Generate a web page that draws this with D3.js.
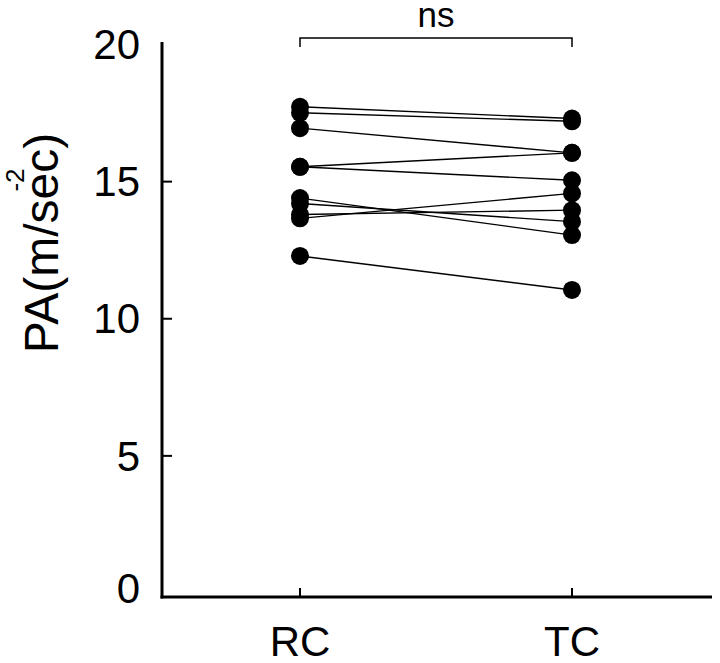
<!DOCTYPE html>
<html>
<head>
<meta charset="utf-8">
<script src="https://cdn.jsdelivr.net/npm/d3@7"></script>
<style>
  body { margin: 0; background: #fff; }
  svg { display: block; font-family: "Liberation Sans", Arial, sans-serif; }
</style>
</head>
<body>
<svg id="plot"></svg>
<script>
// Data: paired values, one line per subject
const groups = ["RC", "TC"];
const rcValues = [17.73, 17.51, 16.95, 15.54, 15.54, 14.4, 14.2, 13.8, 13.66, 12.29];
const tcValues = [17.3, 17.2, 16.05, 15.05, 16.05, 13.05, 13.54, 13.96, 14.57, 11.05];
const yTicks = [0, 5, 10, 15, 20];
const sigLabel = "ns";

const width = 720, height = 663;

const svg = d3.select("#plot")
    .attr("width", width)
    .attr("height", height);

// Scales
const x = d3.scalePoint()
    .domain(groups)
    .range([300, 572]);

const y = d3.scaleLinear()
    .domain([0, 20])
    .range([593, 44.5]);

const axisX0 = 162, axisX1 = 712, axisY = 597;

// y axis line
svg.append("line")
    .attr("x1", axisX0).attr("x2", axisX0)
    .attr("y1", 42).attr("y2", axisY + 1.5)
    .attr("stroke", "#000").attr("stroke-width", 3);

// y ticks (inward)
svg.selectAll(".ytick")
    .data(yTicks.filter(d => d > 0 && d < 20))
    .enter().append("line")
    .attr("class", "ytick")
    .attr("x1", axisX0).attr("x2", axisX0 + 10)
    .attr("y1", d => y(d)).attr("y2", d => y(d))
    .attr("stroke", "#000").attr("stroke-width", 2);

// y tick labels
svg.selectAll(".ylab")
    .data(yTicks)
    .enter().append("text")
    .attr("class", "ylab")
    .attr("x", 140)
    .attr("y", d => y(d) - (d === 0 ? 5 : 0))
    .attr("dy", "0.35em")
    .attr("text-anchor", "end")
    .attr("font-size", 42)
    .text(d => d);

// x axis line
svg.append("line")
    .attr("x1", axisX0 - 1.5).attr("x2", axisX1)
    .attr("y1", axisY).attr("y2", axisY)
    .attr("stroke", "#000").attr("stroke-width", 3);

// x ticks (inward)
svg.selectAll(".xtick")
    .data(groups)
    .enter().append("line")
    .attr("class", "xtick")
    .attr("x1", d => x(d)).attr("x2", d => x(d))
    .attr("y1", axisY).attr("y2", axisY - 9)
    .attr("stroke", "#000").attr("stroke-width", 2);

// x labels
svg.selectAll(".xlab")
    .data(groups)
    .enter().append("text")
    .attr("class", "xlab")
    .attr("x", d => x(d))
    .attr("y", 656)
    .attr("text-anchor", "middle")
    .attr("font-size", 42)
    .text(d => d);

// y axis label
svg.append("text")
    .attr("transform", "translate(58,243) rotate(-90)")
    .attr("text-anchor", "middle")
    .attr("font-size", 48)
    .text("PA(m/sec)");
svg.append("text")
    .attr("transform", "translate(24,180) rotate(-90)")
    .attr("text-anchor", "middle")
    .attr("font-size", 26)
    .text("-2");

// paired lines
const pairs = rcValues.map((v, i) => ({ rc: v, tc: tcValues[i] }));

svg.selectAll(".pair")
    .data(pairs)
    .enter().append("line")
    .attr("class", "pair")
    .attr("x1", x("RC")).attr("x2", x("TC"))
    .attr("y1", d => y(d.rc)).attr("y2", d => y(d.tc))
    .attr("stroke", "#000").attr("stroke-width", 1.4);

// points
svg.selectAll(".pt-rc")
    .data(rcValues)
    .enter().append("circle")
    .attr("cx", x("RC"))
    .attr("cy", d => y(d))
    .attr("r", 9)
    .attr("fill", "#000");

svg.selectAll(".pt-tc")
    .data(tcValues)
    .enter().append("circle")
    .attr("cx", x("TC"))
    .attr("cy", d => y(d))
    .attr("r", 9)
    .attr("fill", "#000");

// significance bracket
const by = 38;
svg.append("path")
    .attr("d", `M${x("RC")},${by + 9}V${by}H${x("TC")}V${by + 9}`)
    .attr("fill", "none")
    .attr("stroke", "#000").attr("stroke-width", 1.5);

svg.append("text")
    .attr("x", (x("RC") + x("TC")) / 2)
    .attr("y", 27)
    .attr("text-anchor", "middle")
    .attr("font-size", 35)
    .text(sigLabel);
</script>
</body>
</html>
